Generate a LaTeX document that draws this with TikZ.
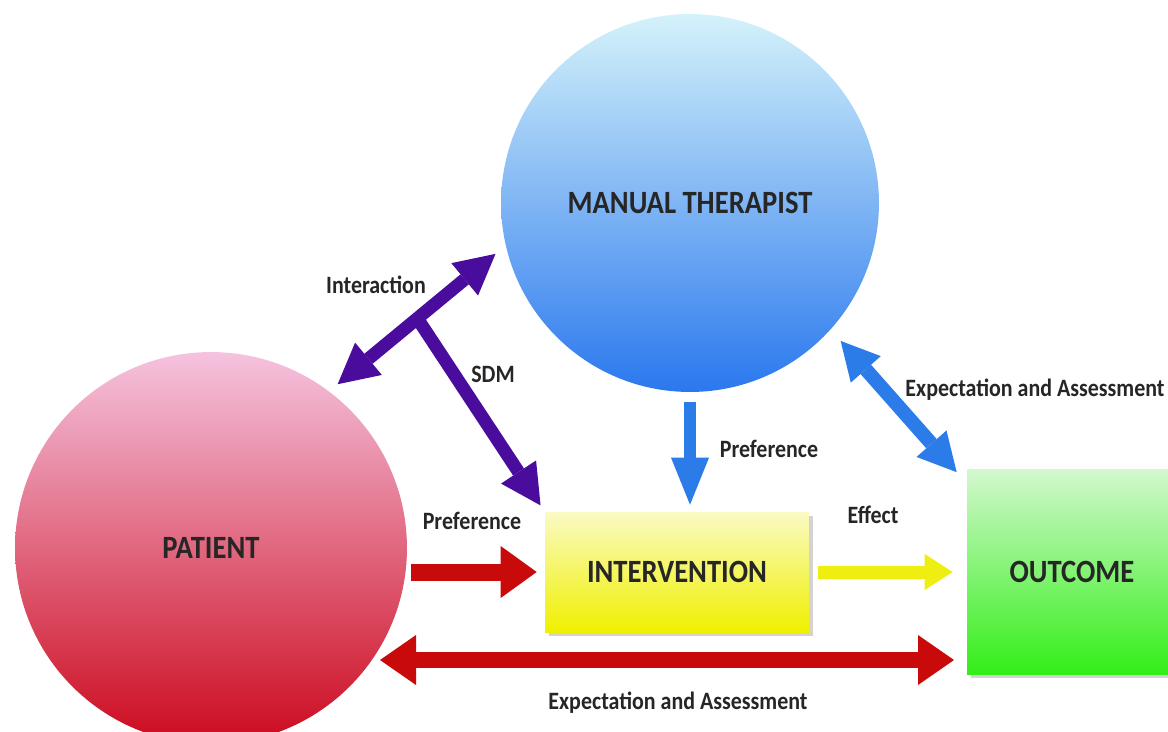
\documentclass[tikz,border=0pt]{standalone}
\usepackage{fontspec}
\setmainfont{Carlito}
\newfontfamily\narrowfont{Carlito}[FakeStretch=0.88, BoldFeatures={FakeStretch=0.88}]
\usetikzlibrary{arrows.meta,shadows}
\definecolor{thtop}{HTML}{D4F2FA}
\definecolor{thbot}{HTML}{2A78EE}
\definecolor{patop}{HTML}{F5C3DF}
\definecolor{pamid}{HTML}{E07CA8}
\definecolor{pabot}{HTML}{CC0A1E}
\definecolor{intop}{HTML}{FAFAC4}
\definecolor{inbot}{HTML}{F0F000}
\definecolor{outop}{HTML}{D2F8CE}
\definecolor{oubot}{HTML}{33EE18}
\definecolor{purp}{HTML}{4A0C9C}
\definecolor{bluearr}{HTML}{2B7BE8}
\definecolor{redarr}{HTML}{C80A0A}
\definecolor{yelarr}{HTML}{EEEE10}
\tikzset{
  big/.style={font=\narrowfont\fontsize{18.5}{22}\selectfont\bfseries, text=black!85},
  small/.style={font=\narrowfont\fontsize{14.2}{17}\selectfont\bfseries, text=black!85},
  ball/.style={circle, minimum size=#1, inner sep=0pt, big},
  block/.style={rectangle, inner sep=0pt, big,
    drop shadow={shadow xshift=2pt, shadow yshift=-2pt, opacity=.35}},
  onearrow/.style n args={3}{line width=#1cm,
    -{Triangle[length=#2cm,width=#3cm,line width=0pt]}},
  twoarrow/.style n args={3}{line width=#1cm,
    {Triangle[length=#2cm,width=#3cm,line width=0pt]}-{Triangle[length=#2cm,width=#3cm,line width=0pt]}},
}

\begin{document}
\begin{tikzpicture}[x=0.02cm,y=-0.02cm]
\useasboundingbox (0,0) rectangle (1168,731);
\clip (0,0) rectangle (1168,731);
% circles and boxes
\node[ball=7.56cm, top color=thtop, bottom color=thbot] (therapist) at (690,203) {MANUAL THERAPIST};
\node[ball=7.84cm, top color=patop, middle color=pamid, bottom color=pabot] (patient) at (211,548) {PATIENT};
\node[block, minimum width=5.28cm, minimum height=2.4cm, top color=intop, bottom color=inbot] (intervention) at (677,572) {INTERVENTION};
\node[block, minimum width=4.2cm, minimum height=4.1cm, top color=outop, bottom color=oubot] (outcome) at (1072,572) {OUTCOME};
% labels
\node[small] (interaction) at (376,285) {Interaction};
\node[small] (sdm) at (493,374) {SDM};
\node[small] (prefT) at (769,449) {Preference};
\node[small] (expT) at (1035,390) {Expectation and Assessment};
\node[small] (prefP) at (472,521) {Preference};
\node[small] (effect) at (873,515) {Effect};
\node[small] (expP) at (678,703) {Expectation and Assessment};
% arrows
\coordinate (expL) at (380,660);
\coordinate (expR) at (954,660);
\draw[purp, twoarrow={.26}{.8}{.84}, shorten <=0.22cm, shorten >=0.26cm]
  (patient.53) -- coordinate[pos=.5] (jn) (therapist.193);
\draw[purp, onearrow={.26}{.8}{.84}, shorten >=0.15cm] (jn) -- (intervention.north west);
\draw[bluearr, onearrow={.25}{.94}{.76}, shorten <=0.2cm, shorten >=0.14cm]
  (therapist.south) -- (therapist.south |- intervention.north);
\draw[bluearr, twoarrow={.28}{.76}{.8}, shorten <=0.3cm]
  (therapist.-42) -- ([shift={(-10,3)}]outcome.north west);
\draw[redarr, onearrow={.34}{.72}{1.04}, shorten <=0.08cm, shorten >=0.16cm]
  (patient.east |- intervention.west) -- (intervention.west);
\draw[yelarr, onearrow={.26}{.56}{.72}, shorten <=0.18cm, shorten >=0.28cm]
  (intervention.east) -- (outcome.west);
\draw[redarr, twoarrow={.32}{.72}{1.0}] (expL) -- (expR);
\end{tikzpicture}
\end{document}
